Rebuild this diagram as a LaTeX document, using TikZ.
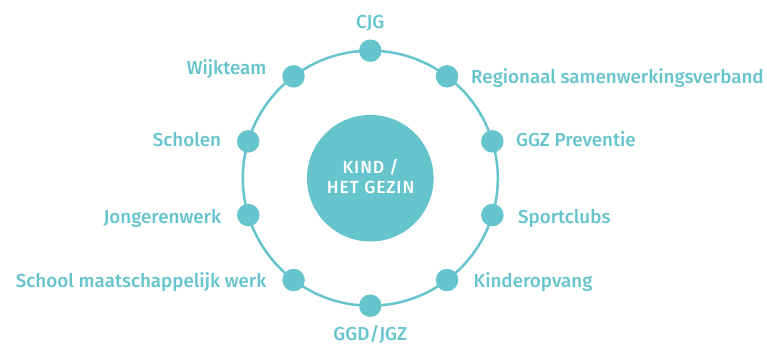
\documentclass[tikz,border=0pt]{standalone}
\usepackage{fontspec}
\setmainfont{Fira Sans}[UprightFont=* Medium]
\newfontfamily\hubfont{Fira Sans}[UprightFont=* Medium,LetterSpace=5]
\usetikzlibrary{calc}
\definecolor{brandteal}{RGB}{102,196,204}
\begin{document}
\begin{tikzpicture}[x=1pt,y=-1pt,
  dot/.style={circle,fill=brandteal,minimum size=22.5pt,inner sep=0pt},
  hub/.style={circle,fill=brandteal,minimum size=126.6pt,inner sep=0pt},
  hubtxt/.style={text=white,inner sep=0pt,font=\hubfont\fontsize{17.5}{20}\selectfont},
  lbl/.style={text=brandteal,inner sep=0pt,font=\fontsize{18.8}{20}\selectfont}]
\useasboundingbox (0,0) rectangle (767,345);
\coordinate (c) at (370.3,178.2);
\draw[brandteal,line width=2.5pt] (c) circle[radius=127.5];
\node[hub] (kind) at (c) {};
\node[hubtxt,anchor=base] (t1) at (370.6,173.3) {KIND /};
\node[hubtxt,anchor=base] (t2) at (370.6,193.3) {HET GEZIN};
% dots
\node[dot] (cjg)  at ([shift={(-90:127.5)}]c) {};
\node[dot] (reg)  at ([shift={(-53:127.5)}]c) {};
\node[dot] (ggz)  at ([shift={(-16.8:127.5)}]c) {};
\node[dot] (sport) at ([shift={(16.8:127.5)}]c) {};
\node[dot] (kinder) at ([shift={(53:127.5)}]c) {};
\node[dot] (ggd)  at ([shift={(90:127.5)}]c) {};
\node[dot] (smw)  at ([shift={(127:127.5)}]c) {};
\node[dot] (jong) at ([shift={(163.2:127.5)}]c) {};
\node[dot] (schol) at ([shift={(196.8:127.5)}]c) {};
\node[dot] (wijk) at ([shift={(233:127.5)}]c) {};
% labels
\node[lbl,anchor=base] (lcjg) at ([shift={(0,-22.4)}]cjg.center) {CJG};
\node[lbl,anchor=base] (lggd) at ([shift={(0,35)}]ggd.center) {GGD/JGZ};
\node[lbl,anchor=base west] (lreg) at ([shift={(24,7.3)}]reg.center) {Regionaal samenwerkingsverband};
\node[lbl,anchor=base west] (lggz) at ([shift={(23.5,5.3)}]ggz.center) {GGZ Preventie};
\node[lbl,anchor=base west] (lsport) at ([shift={(25.5,8.3)}]sport.center) {Sportclubs};
\node[lbl,anchor=base west] (lkinder) at ([shift={(26.5,7.4)}]kinder.center) {Kinderopvang};
\node[lbl,anchor=base east] (lsmw) at ([shift={(-27,7.4)}]smw.center) {School maatschappelijk werk};
\node[lbl,anchor=base east] (ljong) at ([shift={(-27,8.3)}]jong.center) {Jongerenwerk};
\node[lbl,anchor=base east] (lschol) at ([shift={(-27,5)}]schol.center) {Scholen};
\node[lbl,anchor=base east] (lwijk) at ([shift={(-27,-1.7)}]wijk.center) {Wijkteam};
\end{tikzpicture}
\end{document}
